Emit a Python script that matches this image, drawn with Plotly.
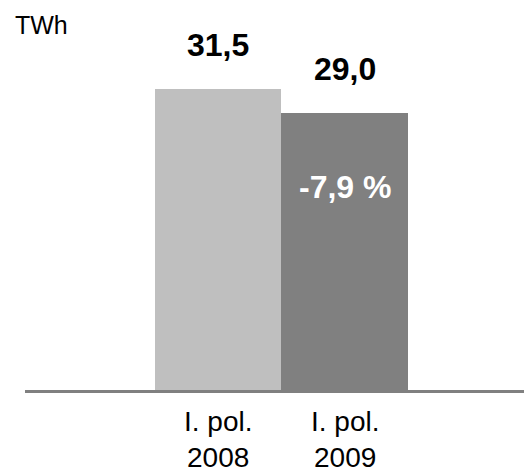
import plotly.graph_objects as go

# Electricity volumes, first half-year comparison
categories = ["I. pol. 2008", "I. pol. 2009"]
label_line1 = ["I. pol.", "I. pol."]
label_line2 = ["2008", "2009"]
values = [31.5, 29.0]
bar_colors = ["#BFBFBF", "#808080"]
unit = "TWh"

FONT = "Arial, Liberation Sans, sans-serif"

def fmt(v):
    return f"{v:.1f}".replace(".", ",")

change_pct = (values[1] / values[0] - 1) * 100

fig = go.Figure(
    go.Bar(
        x=categories,
        y=values,
        marker=dict(color=bar_colors, line=dict(width=0)),
        hoverinfo="skip",
    )
)

annotations = []
# value labels above each bar
for cat, v in zip(categories, values):
    annotations.append(dict(
        x=cat, y=v, xref="x", yref="y", text=f"<b>{fmt(v)}</b>",
        showarrow=False, yanchor="middle", yshift=44,
        font=dict(family=FONT, size=32, color="#000000"),
    ))
# relative change inside the second bar
annotations.append(dict(
    x=categories[1], y=values[1], xref="x", yref="y",
    text=f"<b>{fmt(change_pct)} %</b>",
    showarrow=False, yanchor="middle", yshift=-74,
    font=dict(family=FONT, size=32, color="#FFFFFF"),
))
# two-line category labels under the baseline
for cat, l1, l2 in zip(categories, label_line1, label_line2):
    annotations.append(dict(
        x=cat, y=0, xref="x", yref="y", text=l1, showarrow=False,
        yanchor="middle", yshift=-31,
        font=dict(family=FONT, size=28, color="#000000"),
    ))
    annotations.append(dict(
        x=cat, y=0, xref="x", yref="y", text=l2, showarrow=False,
        yanchor="middle", yshift=-67,
        font=dict(family=FONT, size=28, color="#000000"),
    ))
# unit label
annotations.append(dict(
    x=-12 / 499, y=1, xref="paper", yref="paper", text=unit,
    showarrow=False, xanchor="left", yanchor="middle", yshift=-25,
    font=dict(family=FONT, size=25, color="#000000"),
))

fig.update_layout(
    width=524,
    height=475,
    margin=dict(l=25, r=0, t=0, b=85),
    paper_bgcolor="white",
    plot_bgcolor="white",
    bargap=0,
    showlegend=False,
    annotations=annotations,
    xaxis=dict(
        type="category",
        range=[-1.52, 2.41],
        showticklabels=False,
        showgrid=False,
        zeroline=False,
        showline=True,
        linecolor="#808080",
        linewidth=3,
        ticks="",
        fixedrange=True,
    ),
    yaxis=dict(
        range=[0, 40.8],
        visible=False,
        showgrid=False,
        zeroline=False,
        fixedrange=True,
    ),
)

fig.write_html("out.html")
